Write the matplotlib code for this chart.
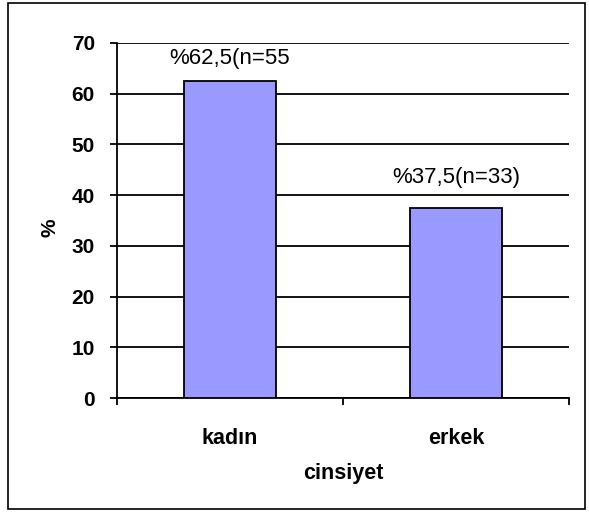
import matplotlib
matplotlib.use("Agg")
import matplotlib.pyplot as plt
from matplotlib.patches import Rectangle

categories = ["kadın", "erkek"]
values = [62.5, 37.5]
labels = ["%62,5(n=55", "%37,5(n=33)"]
yticks = [0, 10, 20, 30, 40, 50, 60, 70]

plt.rcParams['font.family'] = ['Liberation Sans', 'DejaVu Sans']

W, H = 589, 515
fig = plt.figure(figsize=(W/100, H/100), dpi=100)
fig.patch.set_facecolor("white")
fig.patches.append(Rectangle((8/W, 1-509/H), (585-8)/W, (509-3)/H, transform=fig.transFigure,
                             fill=False, edgecolor="black", linewidth=1.2))

ax = fig.add_axes([117/W, 1-398/H, (569-117)/W, (398-43)/H])
x = list(range(len(categories)))
ax.bar(x, values, width=0.41, color="#9999FF", edgecolor="black", linewidth=1.3, zorder=3)
ax.set_xlim(-0.5, 1.5)
ax.set_ylim(0, 70)
ax.set_yticks(yticks)
ax.set_yticklabels([str(t) for t in yticks], fontsize=15, fontweight="bold")
ax.yaxis.grid(True, color="black", linewidth=1.3, zorder=0)
ax.set_axisbelow(True)
for s in ["top", "right"]:
    ax.spines[s].set_visible(False)
for s in ["left", "bottom"]:
    ax.spines[s].set_linewidth(1.3)
ax.tick_params(axis="y", length=5, width=1.3, pad=11)
ax.set_xticks([-0.5, 0.5, 1.5])
ax.set_xticklabels([])
ax.tick_params(axis="x", length=5, width=1.3)
for i, c in enumerate(categories):
    ax.text(i, -7.9, c, ha="center", va="center", fontsize=15.5, fontweight="bold")
ax.text(0.5, -14.9, "cinsiyet", ha="center", va="center", fontsize=15.5, fontweight="bold")
label_offsets = [4.4, 5.9]
for i, (v, lab) in enumerate(zip(values, labels)):
    ax.text(i, v + label_offsets[i], lab, ha="center", va="center", fontsize=16)
ax.text(-0.5 - (117 - 50) / 226, 33.5, "%", rotation=90, ha="center", va="center", fontsize=15,
        fontweight="bold", clip_on=False)

fig.savefig("out.png", dpi=100)
